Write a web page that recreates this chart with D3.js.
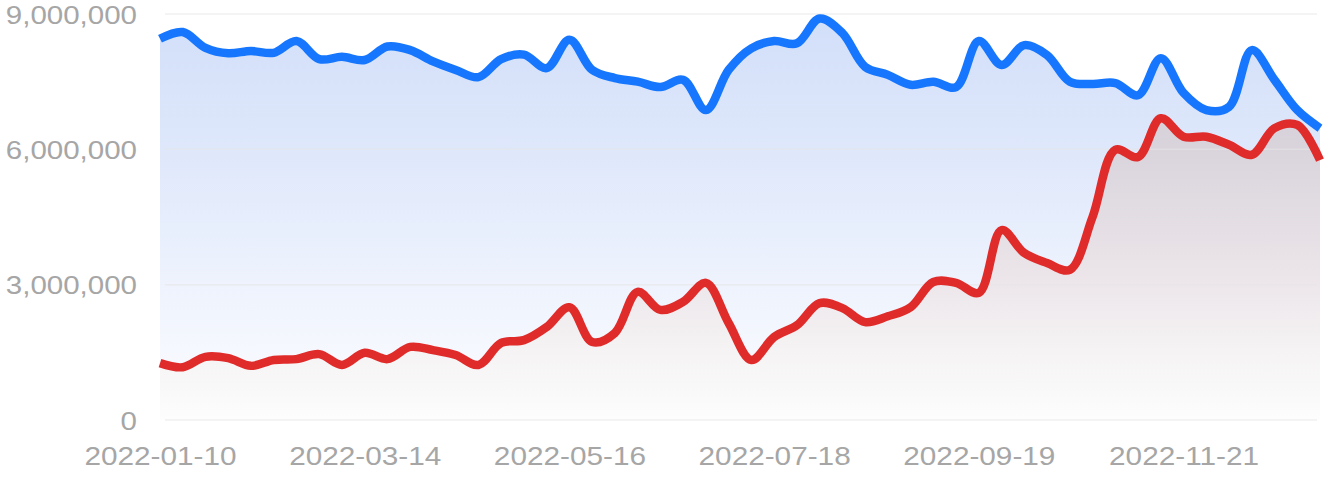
<!DOCTYPE html>
<html>
<head>
<meta charset="utf-8">
<script src="https://cdn.jsdelivr.net/npm/d3@7"></script>
<style>
  body { margin: 0; background: #fff; }
  svg { display: block; }
  .tick text { font-family: "Liberation Sans", Arial, sans-serif; fill: #a6a6a6; }
</style>
</head>
<body>
<svg id="chart" width="1339" height="478"></svg>
<script>
// weekly series, first week starts 2022-01-10
var startDate = "2022-01-10";

var blueValues = [8450000, 8600000, 8250000, 8130000, 8180000, 8140000, 8400000, 8000000, 8050000, 7980000,
  8280000, 8200000, 7950000, 7760000, 7600000, 8000000, 8100000, 7800000, 8430000, 7760000,
  7580000, 7500000, 7380000, 7540000, 6870000, 7760000, 8240000, 8400000, 8350000, 8900000,
  8580000, 7830000, 7650000, 7430000, 7500000, 7380000, 8400000, 7870000, 8310000, 8090000,
  7500000, 7450000, 7470000, 7200000, 8020000, 7250000, 6870000, 6940000, 8200000, 7540000,
  6870000, 6470000];

var redValues = [1260000, 1170000, 1400000, 1370000, 1200000, 1330000, 1350000, 1460000, 1220000, 1490000,
  1350000, 1620000, 1550000, 1440000, 1220000, 1710000, 1770000, 2060000, 2500000, 1730000,
  1930000, 2840000, 2440000, 2620000, 3040000, 2150000, 1330000, 1840000, 2100000, 2590000,
  2480000, 2170000, 2300000, 2500000, 3060000, 3040000, 2820000, 4210000, 3700000, 3480000,
  3330000, 4500000, 5990000, 5830000, 6690000, 6280000, 6280000, 6100000, 5880000, 6470000,
  6540000, 5760000];

var xTickLabels = ["2022-01-10", "2022-03-14", "2022-05-16", "2022-07-18", "2022-09-19", "2022-11-21"];
var yTicks = [0, 3000000, 6000000, 9000000];

var parse = d3.timeParse("%Y-%m-%d");
var fmt = d3.timeFormat("%Y-%m-%d");
var dates = blueValues.map((v, i) => d3.timeWeek.offset(parse(startDate), i));

var svg = d3.select("#chart");

var x = d3.scaleTime()
  .domain([dates[0], dates[dates.length - 1]])
  .range([160, 1320]);

var y = d3.scaleLinear()
  .domain([0, 9000000])
  .range([420, 14]);

// gradients
var defs = svg.append("defs");
function grad(id, stops) {
  var g = defs.append("linearGradient")
    .attr("id", id)
    .attr("gradientUnits", "userSpaceOnUse")
    .attr("x1", 0).attr("x2", 0)
    .attr("y1", y(9000000)).attr("y2", y(0));
  stops.forEach(s => g.append("stop").attr("offset", s[0]).attr("stop-color", s[1]));
}
grad("blueFill", [[0, "#d2dff9"], [0.35, "#dfe8fb"], [0.67, "#eef3fd"], [1, "#fdfdff"]]);
grad("redFill", [[0, "#d3ccd6"], [0.33, "#d9d3dc"], [0.67, "#ede7eb"], [0.83, "#f5f3f4"], [1, "#fdfdfd"]]);

var curve = d3.curveCatmullRom;

var area = vals => d3.area()
  .x((d, i) => x(dates[i]))
  .y0(y(0))
  .y1(d => y(d))
  .curve(curve)(vals);

var line = vals => d3.line()
  .x((d, i) => x(dates[i]))
  .y(d => y(d))
  .curve(curve)(vals);

svg.append("path").attr("d", area(blueValues)).attr("fill", "url(#blueFill)");
svg.append("path").attr("d", area(redValues)).attr("fill", "url(#redFill)");

// grid lines
svg.append("g")
  .selectAll("line")
  .data(yTicks)
  .join("line")
  .attr("x1", 165).attr("x2", 1317)
  .attr("y1", d => y(d)).attr("y2", d => y(d))
  .attr("stroke", "#e6e6e6")
  .attr("stroke-opacity", 0.6)
  .attr("stroke-width", 1.5);

// lines
svg.append("path").attr("d", line(blueValues))
  .attr("fill", "none").attr("stroke", "#1677fe")
  .attr("stroke-width", 8.5).attr("stroke-linejoin", "round");
svg.append("path").attr("d", line(redValues))
  .attr("fill", "none").attr("stroke", "#e02b2b")
  .attr("stroke-width", 8.5).attr("stroke-linejoin", "round");

// axes
var yAxis = svg.append("g")
  .attr("transform", "translate(137,1)")
  .call(d3.axisLeft(y).tickValues(yTicks).tickFormat(d3.format(",")).tickSize(0).tickPadding(0));
yAxis.select(".domain").remove();
yAxis.selectAll("text")
  .attr("x", 0)
  .style("font-size", "25px")
  .attr("transform", "scale(1.18,1)");

var xAxis = svg.append("g")
  .attr("transform", "translate(0,420)")
  .call(d3.axisBottom(x).tickValues(xTickLabels.map(parse)).tickFormat(fmt).tickSize(0).tickPadding(27));
xAxis.select(".domain").remove();
xAxis.selectAll("text")
  .style("font-size", "25px")
  .attr("transform", "scale(1.19,1)")
  .attr("y", 27);
</script>
</body>
</html>
